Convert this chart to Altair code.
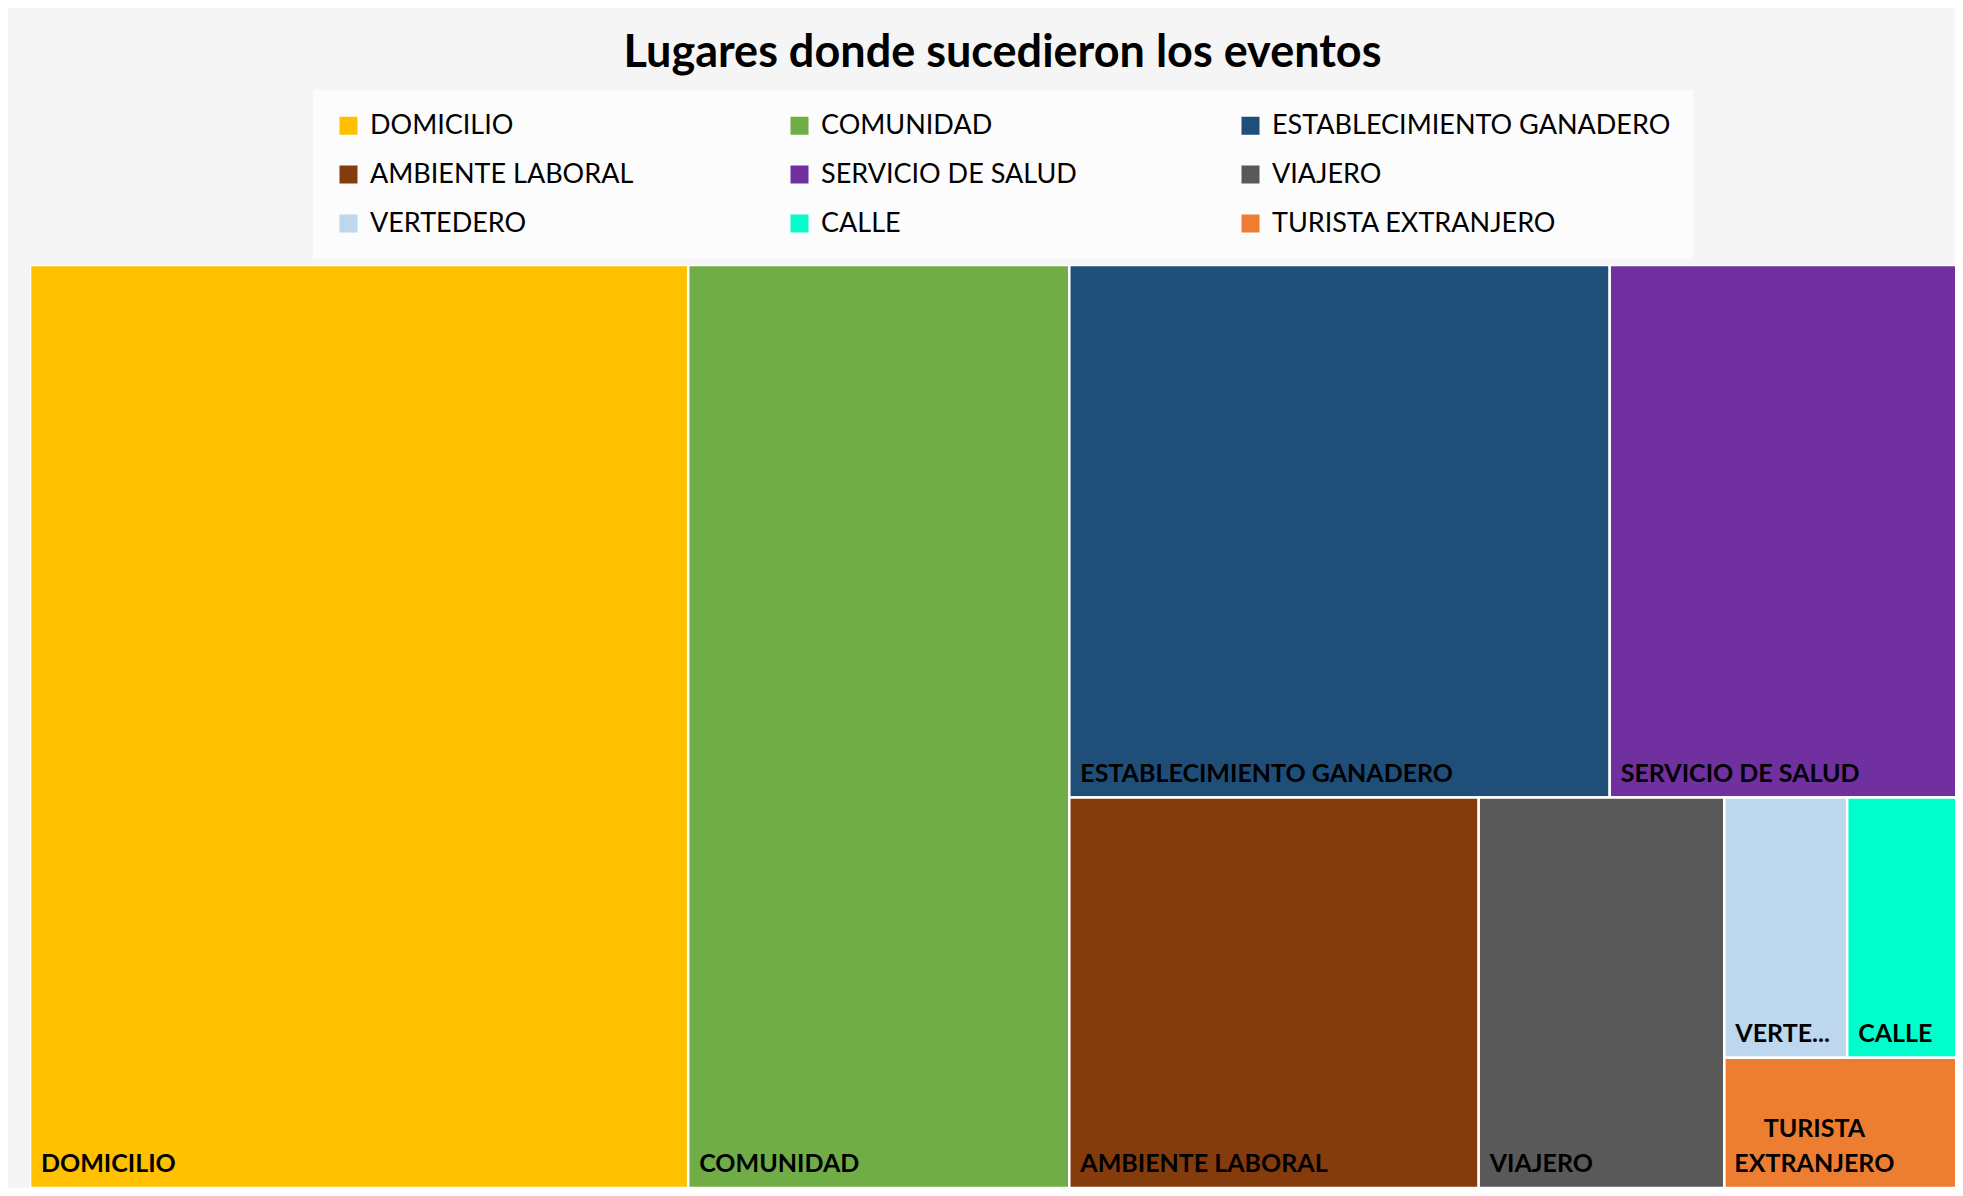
import math
import altair as alt
import pandas as pd

# ---------------- data (in the legend's order) ----------------
CATEGORIES = ["DOMICILIO", "COMUNIDAD", "ESTABLECIMIENTO GANADERO", "AMBIENTE LABORAL",
              "SERVICIO DE SALUD", "VIAJERO", "VERTEDERO", "CALLE", "TURISTA EXTRANJERO"]
VALUES = [19, 11, 9, 5, 6, 3, 1, 1, 1]
LABELS = ["DOMICILIO", "COMUNIDAD", "ESTABLECIMIENTO GANADERO", "AMBIENTE LABORAL",
          "SERVICIO DE SALUD", "VIAJERO", "VERTE...", "CALLE", "TURISTA\nEXTRANJERO"]
COLORS = ["#FFC000", "#70AD47", "#1F4E79", "#843C0C", "#7030A0",
          "#595959", "#BDD7EE", "#00FFCC", "#ED7D31"]
TITLE = "Lugares donde sucedieron los eventos"

# visible plot-area size (px); the treemap layout space runs a little past the right edge
PW, PH = 1925, 923
TREEMAP_W = 1940


def layout(items, x, y, w, h, out):
    """Balanced binary-split treemap (ties laid out as a small grid)."""
    n = len(items)
    if n == 1:
        out[items[0][0]] = (x, y, x + w, y + h)
        return
    vals = [v for _, v in items]
    total = float(sum(vals))
    if len(set(vals)) == 1:
        ncol = math.ceil(math.sqrt(n))
        rows = [items[i:i + ncol] for i in range(0, n, ncol)]
        yy = y
        for row in rows:
            rs = sum(v for _, v in row)
            rh = h * rs / total
            xx = x
            for idx, v in row:
                cw = w * v / rs
                out[idx] = (xx, yy, xx + cw, yy + rh)
                xx += cw
            yy += rh
        return
    best, cum = None, 0
    for k in range(1, n):
        cum += vals[k - 1]
        d = abs(cum - total / 2)
        if best is None or d < best[0]:
            best = (d, k)
    k = best[1]
    fa = sum(vals[:k]) / total
    a, b = items[:k], items[k:]
    if w >= h:
        layout(a, x, y, w * fa, h, out)
        layout(b, x + w * fa, y, w * (1 - fa), h, out)
    else:
        layout(a, x, y, w, h * fa, out)
        layout(b, x, y + h * fa, w, h * (1 - fa), out)


order = sorted(range(len(VALUES)), key=lambda i: -VALUES[i])
rects = {}
layout([(i, VALUES[i]) for i in order], 0, 0, TREEMAP_W, PH, rects)

df = pd.DataFrame({
    "cat": CATEGORIES,
    "value": VALUES,
    "label": LABELS,
    "x0": [rects[i][0] for i in range(len(CATEGORIES))],
    "y0": [rects[i][1] for i in range(len(CATEGORIES))],
    "x1": [rects[i][2] for i in range(len(CATEGORIES))],
    "y1": [rects[i][3] for i in range(len(CATEGORIES))],
    "multi": ["\n" in s for s in LABELS],
})

base = alt.Chart(df)

xs = alt.Scale(domain=[0, PW], nice=False, zero=False)
ys = alt.Scale(domain=[0, PH], nice=False, zero=False, reverse=True)

boxes = base.mark_rect(stroke="white", strokeWidth=2.5, clip=True).encode(
    x=alt.X("x0:Q", scale=xs, axis=None),
    x2="x1:Q",
    y=alt.Y("y0:Q", scale=ys, axis=None),
    y2="y1:Q",
    color=alt.Color(
        "cat:N",
        scale=alt.Scale(domain=CATEGORIES, range=COLORS),
        legend=alt.Legend(
            orient="none", legendX=283, legendY=-175, columns=3, direction="horizontal",
            title=None, symbolType="square", symbolSize=324, symbolStrokeWidth=0,
            labelFont="Lato", labelFontSize=27, labelColor="black", labelOffset=8,
            columnPadding=17, rowPadding=21, fillColor="#fcfcfc", padding=22,
            gridAlign="all", labelLimit=1000,
        ),
    ),
    tooltip=["cat:N", "value:Q"],
)

single = base.transform_filter("!datum.multi").mark_text(
    align="left", baseline="alphabetic", dx=11, dy=-16,
    font="Lato", fontWeight="bold", fontSize=25, color="black",
).encode(x="x0:Q", y="y1:Q", text="label:N")

multi = base.transform_filter("datum.multi").mark_text(
    align="center", baseline="alphabetic", dx=90, dy=-51, lineBreak="\n", lineHeight=35,
    font="Lato", fontWeight="bold", fontSize=25, color="black",
).encode(x="x0:Q", y="y1:Q", text="label:N")

chart = alt.layer(boxes, single, multi).properties(
    width=PW, height=PH,
    title=alt.TitleParams(TITLE, font="Lato", fontSize=45, fontWeight="bold",
                          color="black", anchor="middle", offset=14, dx=10),
    autosize=alt.AutoSizeParams(type="none"),
    padding={"left": 22, "top": 257, "right": 0, "bottom": 0},
).configure(background="#f5f5f5").configure_view(strokeWidth=0)

chart.save("out.html", embed_options={"renderer": "svg", "actions": False})
